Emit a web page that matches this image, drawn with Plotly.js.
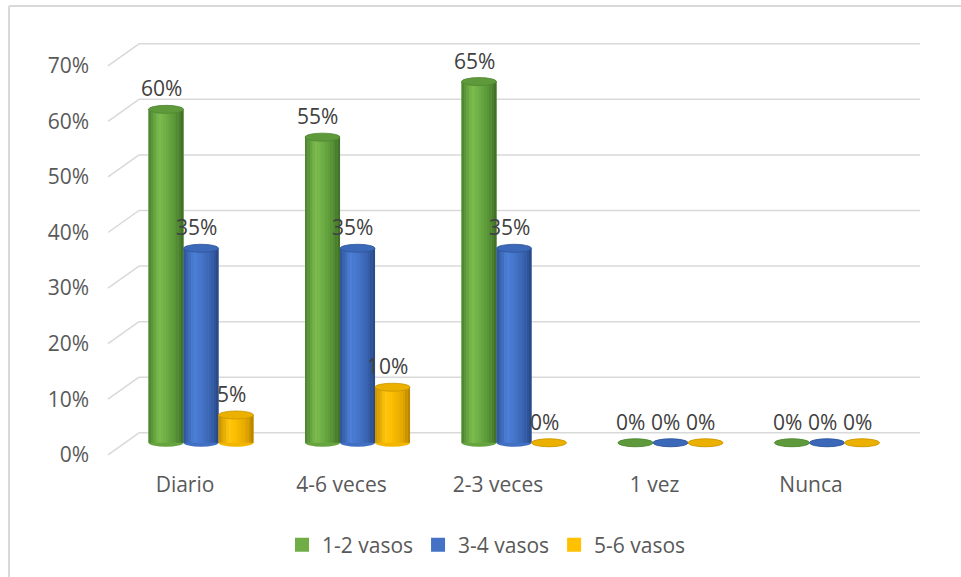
<!DOCTYPE html>
<html>
<head>
<meta charset="utf-8">
<script src="https://cdn.plot.ly/plotly-3.0.1.min.js"></script>
<style>html,body{margin:0;padding:0;background:#fff;}#chart{width:961px;height:577px;}</style>
</head>
<body>
<div id="chart"></div>
<script>
// ---- data ----
const categories = ['Diario', '4-6 veces', '2-3 veces', '1 vez', 'Nunca'];
const seriesNames = ['1-2 vasos', '3-4 vasos', '5-6 vasos'];
const vasos12 = [0.60, 0.55, 0.65, 0, 0];
const vasos34 = [0.35, 0.35, 0.35, 0, 0];
const vasos56 = [0.05, 0.10, 0, 0, 0];
const yTickVals = [0, 0.1, 0.2, 0.3, 0.4, 0.5, 0.6, 0.7];
const yTickText = ['0%', '10%', '20%', '30%', '40%', '50%', '60%', '70%'];

// ---- styling ----
const seriesValues = [vasos12, vasos34, vasos56];
const baseColors = ['#70ad47', '#4472c4', '#ffc000'];
const capColors = ['#5e9a3b', '#3b68b8', '#ebb000'];
const capLines = ['#4f8631', '#2f5597', '#c99500'];
const gradStops = [
  [[0, '#4a8030'], [0.3, '#7cbd4e'], [0.5, '#6fae45'], [0.8, '#548f34'], [1, '#3e6c26']],
  [[0, '#2e5394'], [0.3, '#4d80d9'], [0.5, '#4676cb'], [0.8, '#3760ac'], [1, '#274780']],
  [[0, '#c48f00'], [0.3, '#ffc70f'], [0.5, '#fbbd00'], [0.8, '#e0a500'], [1, '#b08000']]
];
const nStrips = 14;
function hex2rgb(h) { return [1, 3, 5].map(i => parseInt(h.substr(i, 2), 16)); }
function gradColor(stops, f) {
  for (let k = 1; k < stops.length; k++) {
    if (f <= stops[k][0]) {
      const t = (f - stops[k - 1][0]) / (stops[k][0] - stops[k - 1][0]);
      const a = hex2rgb(stops[k - 1][1]), b = hex2rgb(stops[k][1]);
      return 'rgb(' + a.map((c, j) => Math.round(c + (b[j] - c) * t)).join(',') + ')';
    }
  }
  return stops[stops.length - 1][1];
}

const W = 961, H = 577;
const mL = 100, mR = 36, mT = 26, mB = 112;
const plotL = mL, plotR = W - mR, plotT = mT, plotB = H - mB;
const pxPerCat = 156.5, firstCatPx = 201;
const xRange = [(plotL - firstCatPx) / pxPerCat, (plotR - firstCatPx) / pxPerCat];
const yRange = [-0.04, 0.75];
const pxPerUnit = (plotB - plotT) / (yRange[1] - yRange[0]);
const frontShift = 12 / pxPerUnit;
const backShift = 10 / pxPerUnit;
const barW = 35 / pxPerCat;
const seriesOffsets = [-barW, 0, barW];
const px2x = px => (px - firstCatPx) / pxPerCat;
const px2paperX = px => (px - plotL) / (plotR - plotL);
const py2paperY = py => (plotB - py) / (plotB - plotT);
const FONT = 'Open Sans, sans-serif';

const catX = categories.map((c, i) => i);
const traces = [];
// legend entries (square markers)
seriesNames.forEach((name, s) => {
  traces.push({type: 'scatter', mode: 'markers', name: name, x: [null], y: [null],
    marker: {symbol: 'square', size: 14, color: baseColors[s]}, hoverinfo: 'skip', showlegend: true});
});
// base bars
seriesNames.forEach((name, s) => {
  traces.push({type: 'bar', name: name, x: catX, y: seriesValues[s],
    offset: seriesOffsets[s] - barW / 2, width: barW,
    marker: {color: gradColor(gradStops[s], 0.5), line: {width: 0}},
    hoverinfo: 'skip', showlegend: false});
});
// shading strips (cylinder look)
seriesNames.forEach((name, s) => {
  for (let k = 0; k < nStrips; k++) {
    const f0 = k / nStrips, f1 = (k + 1) / nStrips;
    traces.push({type: 'bar', name: name, x: catX, y: seriesValues[s],
      offset: seriesOffsets[s] - barW / 2 + f0 * barW, width: (f1 - f0) * barW * 1.02,
      marker: {color: gradColor(gradStops[s], (f0 + f1) / 2), line: {width: 0}},
      hoverinfo: 'skip', showlegend: false});
  }
});
traces.push({type: 'scatter', x: [0], y: [0], yaxis: 'y2', mode: 'markers',
  marker: {opacity: 0}, showlegend: false, hoverinfo: 'skip'});

const shapes = [];
shapes.push({type: 'line', xref: 'paper', yref: 'paper', x0: px2paperX(9), x1: px2paperX(9), y0: py2paperY(6), y1: py2paperY(H + 2), line: {color: '#d9d9d9', width: 2}});
shapes.push({type: 'line', xref: 'paper', yref: 'paper', x0: px2paperX(9), x1: px2paperX(W + 2), y0: py2paperY(6), y1: py2paperY(6), line: {color: '#d9d9d9', width: 2}});
yTickVals.forEach(v => {
  shapes.push({type: 'line', xref: 'x', yref: 'y', layer: 'below', x0: px2x(139), x1: px2x(920), y0: v + backShift, y1: v + backShift, line: {color: '#d9d9d9', width: 1.5}});
  shapes.push({type: 'line', xref: 'x', yref: 'y', layer: 'below', x0: px2x(108), x1: px2x(139), y0: v - frontShift, y1: v + backShift, line: {color: '#d9d9d9', width: 1.5}});
});
seriesValues.forEach((vals, s) => {
  vals.forEach((v, i) => {
    const xc = i + seriesOffsets[s];
    shapes.push({type: 'circle', xref: 'x', yref: 'y', layer: 'between', xsizemode: 'pixel', ysizemode: 'pixel',
      xanchor: xc, yanchor: 0, x0: -17.5, x1: 17.5, y0: -4, y1: 4,
      fillcolor: gradColor(gradStops[s], 0.6), line: {width: 0}});
    shapes.push({type: 'circle', xref: 'x', yref: 'y', layer: 'above', xsizemode: 'pixel', ysizemode: 'pixel',
      xanchor: xc, yanchor: v, x0: -17.5, x1: 17.5, y0: -4, y1: 4,
      fillcolor: capColors[s], line: {width: 0.8, color: capLines[s]}});
  });
});

const annotations = [];
seriesValues.forEach((vals, s) => {
  vals.forEach((v, i) => {
    annotations.push({xref: 'x', yref: 'y', x: i + seriesOffsets[s], y: v, xshift: -5, yshift: 21,
      text: Math.round(v * 100) + '%', showarrow: false,
      font: {family: FONT, size: 21, color: '#404040'}});
  });
});

const layout = {
  width: W, height: H,
  margin: {l: mL, r: mR, t: mT, b: mB, pad: 0},
  paper_bgcolor: '#ffffff', plot_bgcolor: 'rgba(0,0,0,0)',
  font: {family: FONT, size: 21, color: '#595959'},
  barmode: 'overlay',
  showlegend: true,
  legend: {orientation: 'h', x: px2paperX(282), xanchor: 'left', y: py2paperY(545), yanchor: 'middle',
    font: {size: 21, color: '#595959'}, bgcolor: 'rgba(0,0,0,0)', itemclick: false},
  xaxis: {range: xRange, tickvals: catX, ticktext: categories, showgrid: false, zeroline: false, showline: false,
    ticks: '', ticklabelshift: -16, ticklabelstandoff: 5, fixedrange: true},
  yaxis: {range: yRange, showgrid: false, zeroline: false, showline: false, showticklabels: false, ticks: '', fixedrange: true},
  yaxis2: {overlaying: 'y', side: 'left', range: [yRange[0] + frontShift, yRange[1] + frontShift],
    tickvals: yTickVals, ticktext: yTickText, showgrid: false, zeroline: false, showline: false, ticks: '',
    ticklabelstandoff: 10, fixedrange: true},
  shapes: shapes,
  annotations: annotations
};

Plotly.newPlot('chart', traces, layout, {displayModeBar: false, staticPlot: true});
</script>
</body>
</html>
